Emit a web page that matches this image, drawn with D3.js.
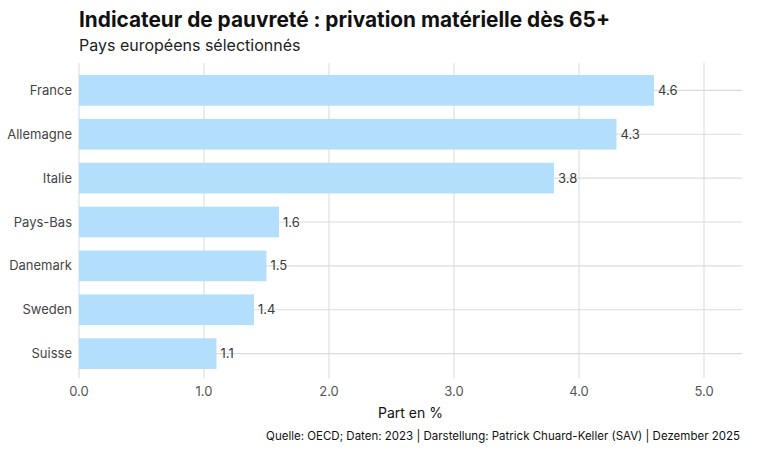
<!DOCTYPE html>
<html><head><meta charset="utf-8">
<script src="https://cdn.jsdelivr.net/npm/d3@7"></script>
<style>body{margin:0;background:#fff;} text{font-family:Inter, "Noto Sans", sans-serif;}</style>
</head><body><svg id="c" width="757" height="454"></svg>
<script>
const countries = ["France","Allemagne","Italie","Pays-Bas","Danemark","Sweden","Suisse"];
const values = [4.6,4.3,3.8,1.6,1.5,1.4,1.1];
const xTicks = [0,1,2,3,4,5];
const title = "Indicateur de pauvreté : privation matérielle dès 65+";
const subtitle = "Pays européens sélectionnés";
const xTitle = "Part en %";
const caption = "Quelle: OECD; Daten: 2023 | Darstellung: Patrick Chuard-Keller (SAV) | Dezember 2025";

const svg = d3.select("#c");
const L = 79, R = 742, T = 64, B = 380;
const x = d3.scaleLinear().domain([0, 5.304]).range([L, R]);
const y = d3.scaleBand().domain(countries).range([T, B]).paddingInner(0.3).paddingOuter(0.25);

// grid
svg.append("g").selectAll("line.v").data(xTicks).join("line")
  .attr("x1", d => x(d)).attr("x2", d => x(d)).attr("y1", T - 1).attr("y2", B - 2)
  .attr("stroke", "#dcdcdc").attr("stroke-width", 1.1);
svg.append("g").selectAll("line.h").data(countries).join("line")
  .attr("x1", L).attr("x2", R).attr("y1", d => y(d) + y.bandwidth()/2).attr("y2", d => y(d) + y.bandwidth()/2)
  .attr("stroke", "#dcdcdc").attr("stroke-width", 1.1);

// bars
svg.append("g").selectAll("rect").data(countries).join("rect")
  .attr("x", x(0)).attr("y", d => y(d))
  .attr("width", (d,i) => x(values[i]) - x(0)).attr("height", y.bandwidth())
  .attr("fill", "#b3dffc");

// value labels
svg.append("g").selectAll("text").data(countries).join("text")
  .attr("x", (d,i) => x(values[i]) + 4).attr("y", d => y(d) + y.bandwidth()/2)
  .attr("dy", "0.35em").attr("font-size", 13).attr("fill", "#3a3a3a")
  .text((d,i) => values[i].toFixed(1));

// y labels
svg.append("g").selectAll("text").data(countries).join("text")
  .attr("x", 72).attr("y", d => y(d) + y.bandwidth()/2)
  .attr("dy", "0.35em").attr("text-anchor", "end").attr("font-size", 13).attr("fill", "#444")
  .text(d => d);

// x tick labels
svg.append("g").selectAll("text").data(xTicks).join("text")
  .attr("x", d => x(d)).attr("y", 396).attr("text-anchor", "middle")
  .attr("font-size", 13).attr("fill", "#555").text(d => d.toFixed(1));

svg.append("text").attr("x", (L + R)/2).attr("y", 418).attr("text-anchor", "middle")
  .attr("font-size", 14).attr("fill", "#111").text(xTitle);
svg.append("text").attr("x", 740).attr("y", 440).attr("text-anchor", "end")
  .attr("font-size", 11.5).attr("fill", "#111").text(caption);

svg.append("text").attr("x", L).attr("y", 27).attr("font-size", 20.8).attr("font-weight", 700)
  .attr("fill", "#111").text(title);
svg.append("text").attr("x", L).attr("y", 51).attr("font-size", 16).attr("fill", "#222").text(subtitle);
</script></body></html>
